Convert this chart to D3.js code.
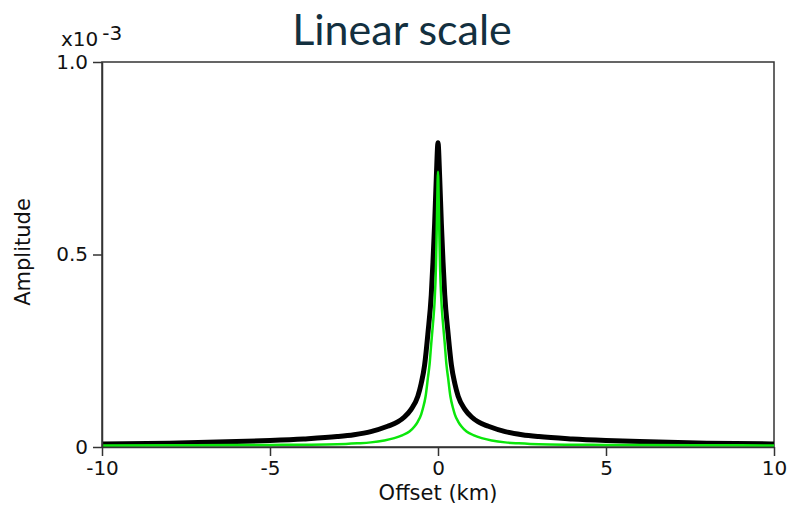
<!DOCTYPE html>
<html>
<head>
<meta charset="utf-8">
<script src="https://cdn.jsdelivr.net/npm/d3@7"></script>
<style>
  html, body { margin: 0; padding: 0; background: #fff; }
  svg { display: block; }
  .axis text { font-family: "DejaVu Sans", sans-serif; font-size: 20px; fill: #111; }
  .axis path, .axis line { stroke: #333; stroke-width: 1.5; }
</style>
</head>
<body>
<svg id="chart" width="793" height="509"></svg>
<script>
// Offsets (km) and amplitudes (x10^-3) of the two profiles
const blackOffset = [-10, -8, -6, -5, -4, -3, -2.5, -2, -1.5, -1.2, -1, -0.8, -0.6, -0.5, -0.4, -0.3, -0.2, -0.15, -0.1, -0.05,
  0, 0.05, 0.1, 0.15, 0.2, 0.3, 0.4, 0.5, 0.6, 0.8, 1, 1.2, 1.5, 2, 2.5, 3, 4, 5, 6, 8, 10];
const blackAmp = [0.008, 0.010, 0.014, 0.017, 0.021, 0.027, 0.032, 0.040, 0.054, 0.065, 0.078, 0.098, 0.132, 0.165, 0.212, 0.295, 0.395, 0.48, 0.58, 0.70,
  0.79, 0.70, 0.58, 0.48, 0.395, 0.295, 0.212, 0.165, 0.132, 0.098, 0.078, 0.065, 0.054, 0.040, 0.032, 0.027, 0.021, 0.017, 0.014, 0.010, 0.008];

const greenOffset = [-10, -8, -6, -5, -4, -3, -2.4, -2, -1.6, -1.3, -1.05, -0.85, -0.7, -0.6, -0.5, -0.45, -0.37, -0.3, -0.25, -0.2, -0.15, -0.1, -0.06, -0.03,
  0, 0.03, 0.06, 0.1, 0.15, 0.2, 0.25, 0.3, 0.37, 0.45, 0.5, 0.6, 0.7, 0.85, 1.05, 1.3, 1.6, 2, 2.4, 3, 4, 5, 6, 8, 10];
const greenAmp = [0.004, 0.0045, 0.005, 0.0055, 0.006, 0.007, 0.0095, 0.012, 0.017, 0.023, 0.031, 0.040, 0.053, 0.066, 0.085, 0.100, 0.131, 0.18, 0.215, 0.27, 0.32, 0.38, 0.47, 0.60,
  0.715, 0.60, 0.47, 0.38, 0.32, 0.27, 0.215, 0.18, 0.131, 0.100, 0.085, 0.066, 0.053, 0.040, 0.031, 0.023, 0.017, 0.012, 0.0095, 0.007, 0.006, 0.0055, 0.005, 0.0045, 0.004];

const xTicks = [-10, -5, 0, 5, 10];
const yTicks = [0, 0.5, 1.0];
const yTickLabels = ["0", "0.5", "1.0"];

const svg = d3.select("#chart");
const margin = { left: 102, right: 19, top: 62, bottom: 62 };
const W = 793, H = 509;
const x = d3.scaleLinear().domain([-10, 10]).range([margin.left, W - margin.right]);
const y = d3.scaleLinear().domain([0, 1]).range([H - margin.bottom, margin.top]);

// Title
svg.append("text")
  .attr("x", 402).attr("y", 45)
  .attr("text-anchor", "middle")
  .style("font-family", "Lato, 'Open Sans', sans-serif")
  .style("font-size", "43px")
  .style("fill", "#13303f")
  .text("Linear scale");

// Plot frame (top and right edges)
svg.append("rect")
  .attr("x", x(-10)).attr("y", y(1))
  .attr("width", x(10) - x(-10)).attr("height", y(0) - y(1))
  .attr("fill", "none").attr("stroke", "#333").attr("stroke-width", 1.5);

svg.append("clipPath").attr("id", "plot-clip")
  .append("rect")
  .attr("x", x(-10)).attr("y", y(1) - 5)
  .attr("width", x(10) - x(-10)).attr("height", y(0) - y(1) + 5);

const line = d3.line().curve(d3.curveMonotoneX);
const plot = svg.append("g").attr("clip-path", "url(#plot-clip)");

plot.append("path")
  .attr("d", line(blackOffset.map((d, i) => [x(d), y(blackAmp[i])])))
  .attr("fill", "none").attr("stroke", "#000").attr("stroke-width", 5)
  .attr("stroke-linejoin", "round");

plot.append("path")
  .attr("d", line(greenOffset.map((d, i) => [x(d), y(greenAmp[i])])))
  .attr("fill", "none").attr("stroke", "#0be60b").attr("stroke-width", 2.5)
  .attr("stroke-linejoin", "round");

// Axes
const xAxis = svg.append("g").attr("class", "axis")
  .attr("transform", `translate(0,${y(0)})`)
  .call(d3.axisBottom(x).tickValues(xTicks).tickSize(9).tickSizeOuter(0).tickPadding(5).tickFormat(d3.format("d")));
xAxis.selectAll("text").text(d => (d < 0 ? "-" : "") + Math.abs(d));

svg.append("g").attr("class", "axis")
  .attr("transform", `translate(${x(-10)},0)`)
  .call(d3.axisLeft(y).tickValues(yTicks).tickSize(9).tickSizeOuter(0).tickPadding(5)
    .tickFormat((d, i) => yTickLabels[i]));

// Axis exponent marker
const expo = svg.append("text")
  .attr("x", 61).attr("y", 46)
  .style("font-family", "'DejaVu Sans', sans-serif")
  .style("font-size", "20px").style("fill", "#111");
expo.append("tspan").text("x10");
expo.append("tspan").attr("dx", 4).attr("dy", -6).text("-3");

// Axis titles
svg.append("text")
  .attr("x", 438).attr("y", 500)
  .attr("text-anchor", "middle")
  .style("font-family", "'DejaVu Sans', sans-serif")
  .style("font-size", "21px").style("fill", "#111")
  .text("Offset (km)");

svg.append("text")
  .attr("transform", "translate(30,252) rotate(-90)")
  .attr("text-anchor", "middle")
  .style("font-family", "'DejaVu Sans', sans-serif")
  .style("font-size", "21px").style("fill", "#111")
  .text("Amplitude");
</script>
</body>
</html>
